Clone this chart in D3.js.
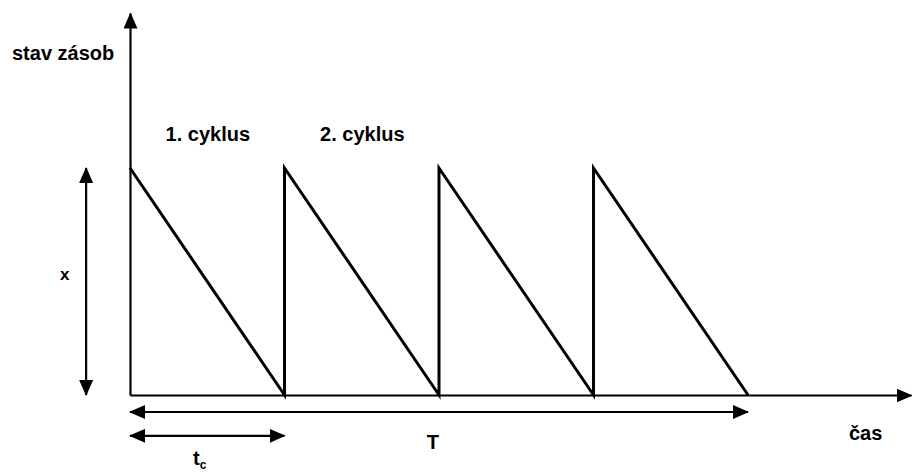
<!DOCTYPE html>
<html>
<head>
<meta charset="utf-8">
<script src="https://cdn.jsdelivr.net/npm/d3@7"></script>
<style>
  body { margin: 0; background: #fff; }
  text { font-family: "Liberation Sans", Arial, sans-serif; font-weight: bold; font-size: 20px; fill: #000; }
</style>
</head>
<body>
<div id="chart"></div>
<script>
const chart_width = 912;
const chart_height = 473;

// sawtooth: time (in cycles) and stock level (x = 1)
const times = [0, 1, 1, 2, 2, 3, 3, 4];
const levels = [1, 0, 1, 0, 1, 0, 1, 0];

const cycle_labels = ['1. cyklus', '2. cyklus'];
const cycle_starts = [0, 1];

const t_max = 5.055;   // end of time axis
const q_max = 1.683;   // top of stock axis

const svg = d3.select('#chart')
    .append('svg')
    .attr('width', chart_width)
    .attr('height', chart_height);

// arrow head
const defs = svg.append('defs');
defs.append('marker')
    .attr('id', 'arrow')
    .attr('viewBox', '0 -7 16 14')
    .attr('refX', 15)
    .attr('refY', 0)
    .attr('markerWidth', 16)
    .attr('markerHeight', 14)
    .attr('markerUnits', 'userSpaceOnUse')
    .attr('orient', 'auto-start-reverse')
    .append('path')
    .attr('d', 'M0,-7L16,0L0,7Z')
    .attr('fill', '#000');

//--------------------------------------------------------------------
// scales
const x_scale = d3.scaleLinear()
    .domain([0, t_max])
    .range([130, 911]);

const y_scale = d3.scaleLinear()
    .domain([0, q_max])
    .range([395, 13]);

//--------------------------------------------------------------------
// axes without ticks
const x_axis = d3.axisBottom(x_scale).tickValues([]).tickSizeOuter(0);
const y_axis = d3.axisLeft(y_scale).tickValues([]).tickSizeOuter(0);

svg.append('g')
    .attr('transform', 'translate(0,' + y_scale(0) + ')')
    .call(x_axis)
    .select('.domain')
    .attr('stroke', '#000')
    .attr('stroke-width', 2.2)
    .attr('marker-end', 'url(#arrow)');

svg.append('g')
    .attr('transform', 'translate(' + x_scale(0) + ',0)')
    .call(y_axis)
    .select('.domain')
    .attr('stroke', '#000')
    .attr('stroke-width', 2.2)
    .attr('marker-end', 'url(#arrow)');

//--------------------------------------------------------------------
// sawtooth
const line = d3.line()
    .x(i => x_scale(times[i]))
    .y(i => y_scale(levels[i]));

svg.append('path')
    .datum(d3.range(times.length))
    .attr('d', line)
    .attr('fill', 'none')
    .attr('stroke', '#000')
    .attr('stroke-width', 3)
    .attr('stroke-linejoin', 'miter');

//--------------------------------------------------------------------
// dimension arrows
function dim_arrow(x1, y1, x2, y2) {
    svg.append('line')
        .attr('x1', x1).attr('y1', y1)
        .attr('x2', x2).attr('y2', y2)
        .attr('stroke', '#000')
        .attr('stroke-width', 2.2)
        .attr('marker-start', 'url(#arrow)')
        .attr('marker-end', 'url(#arrow)');
}

// x (order size)
dim_arrow(x_scale(-0.284), y_scale(0), x_scale(-0.284), y_scale(1));
// T
dim_arrow(x_scale(0), y_scale(-0.075), x_scale(times[times.length - 1]), y_scale(-0.075));
// t_c
dim_arrow(x_scale(0), y_scale(-0.18), x_scale(1), y_scale(-0.18));

//--------------------------------------------------------------------
// labels
svg.append('text').attr('x', 12).attr('y', 60).text('stav zásob');

svg.selectAll('.cyc')
    .data(cycle_labels)
    .enter()
    .append('text')
    .attr('class', 'cyc')
    .attr('x', (d, i) => x_scale(cycle_starts[i] + 0.23))
    .attr('y', y_scale(1.12))
    .text(d => d);

svg.append('text')
    .attr('x', 60).attr('y', 280)
    .style('font-size', '17px')
    .text('x');

svg.append('text')
    .attr('x', x_scale(1.96)).attr('y', 449)
    .attr('text-anchor', 'middle')
    .text('T');

svg.append('text')
    .attr('x', 849).attr('y', 440)
    .text('čas');

const tc = svg.append('text')
    .attr('x', 193).attr('y', 465);
tc.append('tspan').text('t');
tc.append('tspan').attr('dy', 4).style('font-size', '12px').text('c');
</script>
</body>
</html>
